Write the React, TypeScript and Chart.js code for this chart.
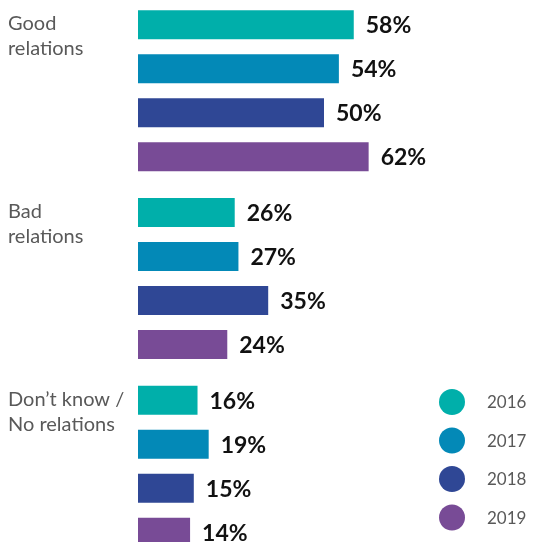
import React, { useEffect, useRef } from "react";
import { Chart, registerables } from "chart.js";

Chart.register(...registerables);

const categories: string[][] = [
  ["Good", "relations"],
  ["Bad", "relations"],
  ["Don\u2019t know /", "No relations"],
];
const years = ["2016", "2017", "2018", "2019"];
const values2016 = [58, 26, 16];
const values2017 = [54, 27, 19];
const values2018 = [50, 35, 15];
const values2019 = [62, 24, 14];
const seriesValues = [values2016, values2017, values2018, values2019];
const colors = ["#00AFAA", "#0389B7", "#2F4795", "#784B96"];

const FONT = "Lato, 'Open Sans', sans-serif";
const OFFSET_Y = -3;
const CANVAS_W = 541;
const CANVAS_H = 563;

const annotate = {
  id: "annotate",
  afterDatasetsDraw(chart: any) {
    const ctx = chart.ctx as CanvasRenderingContext2D;
    ctx.save();
    // value labels
    chart.data.datasets.forEach((ds: any, di: number) => {
      const meta = chart.getDatasetMeta(di);
      meta.data.forEach((bar: any, i: number) => {
        const p = bar.getProps(["x", "y"], true);
        ctx.font = `bold 23px ${FONT}`;
        ctx.fillStyle = "#111111";
        ctx.textAlign = "left";
        ctx.textBaseline = "middle";
        ctx.fillText(`${ds.data[i]}%`, p.x + 12, p.y + 1);
      });
    });
    // category labels
    const meta0 = chart.getDatasetMeta(0);
    categories.forEach((lines, i) => {
      const bar: any = meta0.data[i];
      const p = bar.getProps(["y", "height"], true);
      const top = p.y - p.height / 2;
      ctx.font = `20px ${FONT}`;
      ctx.fillStyle = "#595959";
      ctx.textAlign = "left";
      ctx.textBaseline = "alphabetic";
      lines.forEach((line, li) => {
        ctx.fillText(line, 8, top + 20 + li * 25);
      });
    });
    // legend
    chart.data.datasets.forEach((ds: any, di: number) => {
      const cy = 402 + di * 38.5 - OFFSET_Y;
      ctx.beginPath();
      ctx.arc(452, cy, 13, 0, Math.PI * 2);
      ctx.fillStyle = ds.backgroundColor;
      ctx.fill();
      ctx.font = `17px ${FONT}`;
      ctx.fillStyle = "#595959";
      ctx.textAlign = "left";
      ctx.textBaseline = "middle";
      ctx.fillText(ds.label, 487, cy + 1);
    });
    ctx.restore();
  },
};

export default function App() {
  const ref = useRef<HTMLCanvasElement | null>(null);
  useEffect(() => {
    if (!ref.current) return;
    const chart = new Chart(ref.current, {
      type: "bar",
      data: {
        labels: categories.map((c) => c.join(" ")),
        datasets: years.map((y, i) => ({
          label: y,
          data: seriesValues[i],
          backgroundColor: colors[i],
          borderWidth: 0,
          categoryPercentage: 0.938,
          barPercentage: 0.66,
        })),
      },
      options: {
        indexAxis: "y",
        responsive: false,
        animation: false,
        layout: { padding: { left: 138, right: 31, top: 0, bottom: 0 } },
        plugins: {
          legend: { display: false },
          tooltip: { enabled: false },
        },
        scales: {
          x: { display: false, min: 0, max: 100 },
          y: { display: false },
        },
      },
      plugins: [annotate],
    });
    return () => chart.destroy();
  }, []);
  return (
    <div
      style={{
        position: "fixed",
        left: 0,
        top: 0,
        width: 541,
        height: 542,
        overflow: "hidden",
        background: "#fff",
      }}
    >
      <div style={{ position: "absolute", left: 0, top: OFFSET_Y, width: CANVAS_W, height: CANVAS_H }}>
        <canvas ref={ref} width={CANVAS_W} height={CANVAS_H} style={{ width: CANVAS_W, height: CANVAS_H, display: "block" }} />
      </div>
    </div>
  );
}
